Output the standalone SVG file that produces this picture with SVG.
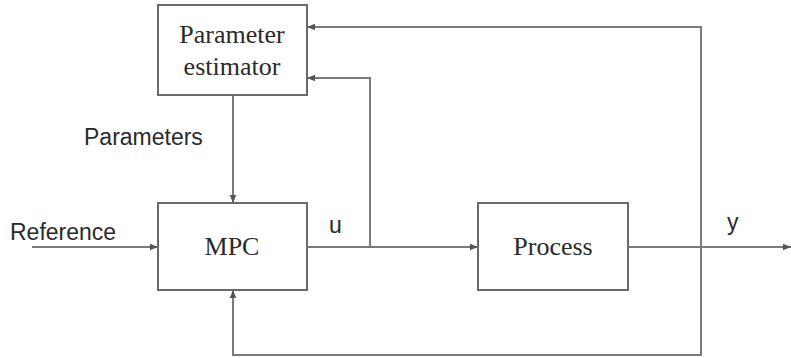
<svg xmlns="http://www.w3.org/2000/svg" width="791" height="358" viewBox="0 0 791 358">
<style>
.box{fill:#fff;stroke:#6a6a6a;stroke-width:2}
.ln{fill:none;stroke:#7a7a7a;stroke-width:2}
.serif{font-family:"Liberation Serif","Times New Roman",serif;font-size:26px;fill:#2a2a2a;text-anchor:middle}
.sans{font-family:"Liberation Sans",Arial,sans-serif;font-size:23px;fill:#2a2a2a}
</style>
<defs>
<marker id="ah" viewBox="0 0 10 10" refX="10" refY="5" markerWidth="8" markerHeight="8" markerUnits="userSpaceOnUse" orient="auto">
<path d="M0,1 L10,5 L0,9 z" fill="#555"/>
</marker>
</defs>
<rect width="791" height="358" fill="#fff"/>
<g id="connectors">
<path class="ln" d="M32,247 H158" marker-end="url(#ah)"/>
<path class="ln" d="M233,95 V203" marker-end="url(#ah)"/>
<path class="ln" d="M307,247 H478" marker-end="url(#ah)"/>
<path class="ln" d="M370,247 V78 H307" marker-end="url(#ah)"/>
<path class="ln" d="M628,247 H791" marker-end="url(#ah)"/>
<path class="ln" d="M701,247 V27 H307" marker-end="url(#ah)"/>
<path class="ln" d="M701,247 V355 H233 V290" marker-end="url(#ah)"/>
</g>
<g id="estimator">
<rect class="box" x="158" y="5" width="149" height="90"/>
<text class="serif" x="232" y="43">Parameter</text>
<text class="serif" x="232" y="75">estimator</text>
</g>
<g id="mpc">
<rect class="box" x="158" y="203" width="149" height="87"/>
<text class="serif" x="232" y="255">MPC</text>
</g>
<g id="process">
<rect class="box" x="478" y="203" width="150" height="87"/>
<text class="serif" x="553" y="255">Process</text>
</g>
<g id="labels">
<text class="sans" x="10" y="240">Reference</text>
<text class="sans" x="84" y="145">Parameters</text>
<text class="sans" x="329" y="233">u</text>
<text class="sans" x="727" y="230">y</text>
</g>
</svg>
